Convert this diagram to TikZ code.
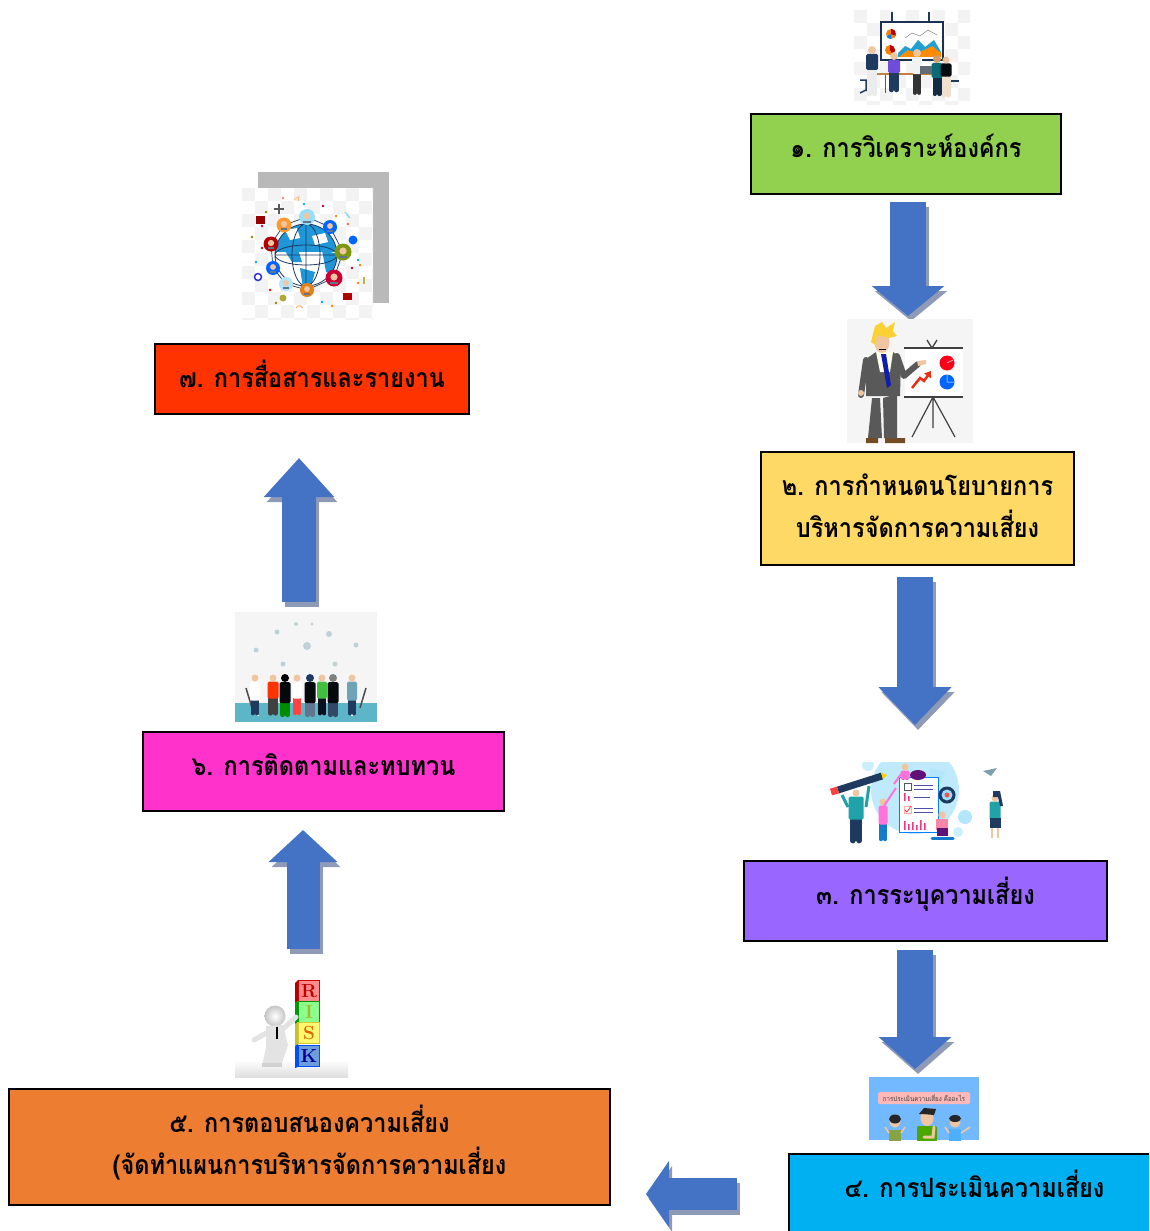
\documentclass[tikz,border=0pt]{standalone}
\usepackage{fontspec}
\usetikzlibrary{arrows.meta,shapes.geometric}
\newfontfamily\thaifont[Script=Thai,FakeStretch=0.88]{Loma}
\newcommand\up[2]{\raisebox{#1}[0pt][0pt]{#2}}
\newcommand\chk[5]{%
  \begin{scope}
    \clip (#1,#2) rectangle (#3,#4);
    \fill[white] (#1,#2) rectangle (#3,#4);
    \foreach \i in {0,...,20} \foreach \j in {0,...,20} {%
      \pgfmathtruncatemacro\chkm{mod(\i+\j,2)}%
      \ifnum\chkm=0 \fill[chkgray] ({#1+\i*#5},{#2+\j*#5}) rectangle ++(#5,#5);\fi
    }%
  \end{scope}}
% person: x, head y, head r, skin, body col, body w, body h, leg col, leg h
\newcommand\psn[9]{%
  \draw[#8,line width=#6*0.38pt,line cap=round] ({#1-#6*0.22},{#2+#3+#7}) -- ++(0,#9);
  \draw[#8,line width=#6*0.38pt,line cap=round] ({#1+#6*0.22},{#2+#3+#7}) -- ++(0,#9);
  \fill[#5,rounded corners=1.5pt] ({#1-#6/2},{#2+#3}) rectangle ({#1+#6/2},{#2+#3+#7+1});
  \fill[#4] (#1,#2) circle (#3);
}
% block arrow: shaft width, head width, head length, from, to
\newcommand\blockconn[5]{%
  \draw[ashadow,line width=#1pt,transform canvas={xshift=3pt,yshift=-5pt},-{Triangle[length=#3pt,width=#2pt]}] (#4) -- (#5);
  \draw[abody,line width=#1pt,-{Triangle[length=#3pt,width=#2pt]}] (#4) -- (#5);}
\definecolor{chkgray}{HTML}{F3F3F3}
\definecolor{abody}{HTML}{4472C4}
\definecolor{ashadow}{HTML}{8F9BB6}
\definecolor{navy}{HTML}{1F3A5F}
\definecolor{skin}{HTML}{F0C6A0}
\definecolor{teal2}{HTML}{1FA3A8}
\definecolor{globe}{HTML}{1E96D8}
\definecolor{floor6}{HTML}{5CB6C8}
\tikzset{
  boxnode/.style={draw=black,line width=1.8pt,rectangle,inner sep=0pt,outer sep=0pt,align=center,
    font=\thaifont\bfseries\fontsize{26.7}{42}\selectfont,text=black},
  blockface/.style={line width=1pt,minimum size=21pt,inner sep=0pt,outer sep=0pt,font=\bfseries\rmfamily\fontsize{19}{19}\selectfont},
}
\begin{document}
\begin{tikzpicture}[x=1pt,y=-1pt]
\clip (0,0) rectangle (1149,1231);
\fill[white] (0,0) rectangle (1149,1231);

% ---------- boxes
\node[boxnode,fill={rgb,255:red,146;green,208;blue,80},minimum width=310pt,minimum height=80pt] (n1) at (906,154) {\up{-3pt}{๑. การวิเคราะห์องค์กร}};
\node[boxnode,fill={rgb,255:red,255;green,217;blue,102},minimum width=313pt,minimum height=113pt] (n2) at (917.5,508.5) {\up{-7.5pt}{๒. การกำหนดนโยบายการ}\\\up{-7.5pt}{บริหารจัดการความเสี่ยง}};
\node[boxnode,fill={rgb,255:red,153;green,102;blue,255},minimum width=363pt,minimum height=80pt] (n3) at (925.5,901) {\up{-3pt}{๓. การระบุความเสี่ยง}};
\node[boxnode,fill={rgb,255:red,0;green,176;blue,240},minimum width=371pt,minimum height=90pt] (n4) at (974.5,1199) {\up{2pt}{๔. การประเมินความเสี่ยง}};
\node[boxnode,fill={rgb,255:red,237;green,125;blue,49},minimum width=601pt,minimum height=116pt] (n5) at (309.5,1147) {\up{-6pt}{๕. การตอบสนองความเสี่ยง}\\\up{-6pt}{(จัดทำแผนการบริหารจัดการความเสี่ยง}};
\node[boxnode,fill={rgb,255:red,255;green,51;blue,204},minimum width=361pt,minimum height=79pt] (n6) at (323.5,771.5) {\up{-4pt}{๖. การติดตามและทบทวน}};
\node[boxnode,fill={rgb,255:red,255;green,51;blue,0},minimum width=314pt,minimum height=70pt] (n7) at (312,379) {\up{-8pt}{๗. การสื่อสารและรายงาน}};

% ---------- block arrows
\coordinate (a1s) at (908,202);  \coordinate (a1e) at (908,316);
\coordinate (a2s) at (915,577);  \coordinate (a2e) at (915,725);
\coordinate (a3s) at (915,950);  \coordinate (a3e) at (915,1069);
\coordinate (a4s) at (737,1194); \coordinate (a4e) at (646,1194);
\coordinate (a5s) at (303,949);  \coordinate (a5e) at (303,830);
\coordinate (a6s) at (299,602);  \coordinate (a6e) at (299,458);
\blockconn{36}{71}{30}{a1s}{a1e}
\blockconn{36}{71}{38}{a2s}{a2e}
\blockconn{36}{71}{32}{a3s}{a3e}
\blockconn{32}{65}{23}{a4s}{a4e}
\blockconn{33}{67}{32}{a5s}{a5e}
\blockconn{34}{68}{39}{a6s}{a6e}

% ---------- picture 1: meeting
\chk{854}{10}{970}{104}{13}
\draw[navy,line width=2pt] (892,12) -- (892,21) (929,12) -- (929,21);
\draw[navy!85!black,line width=2pt,fill=white] (881,22) rectangle (943,60);
\fill[orange] (891,34) circle (5); \fill[red!70!black] (891,34) -- (891,29) arc (-90:20:5) -- cycle;
\fill[blue!50!cyan] (891,34) -- ++(0,5) arc (90:150:5) -- cycle;
\fill[orange] (890,50) circle (5); \fill[red!70!black] (890,50) -- (890,45) arc (-90:60:5) -- cycle;
\fill[cyan!70!teal] (898,53) -- (905,46) -- (911,49) -- (918,40) -- (925,47) -- (934,40) -- (941,52) -- (941,57) -- (898,57) -- cycle;
\fill[orange!90!yellow] (899,57) -- (908,50) -- (916,53) -- (924,50) -- (932,46) -- (941,53) -- (941,57) -- cycle;
\draw[gray,line width=.5pt] (905,38) -- (912,33) -- (920,36) -- (928,30) -- (937,35);
\draw[brown,line width=2pt] (874,74) -- (950,74);
\draw[gray!70!black,line width=1pt] (885,75) -- (885,93) (940,75) -- (940,93);
\draw[navy,line width=1.5pt] (860,80) -- (868,80) (866,80) -- (866,90) (860,93) -- (866,90) -- (872,93);
\draw[navy,line width=1.5pt] (950,81) -- (959,81);
\psn{872}{50}{4}{skin}{navy}{12}{15}{white!85!gray}{25}
\psn{894}{56}{4}{skin}{blue!60!violet!70!white}{12}{12}{navy}{18}
\psn{917}{53}{4}{skin}{white!90!gray}{10}{16}{black!80}{20}
\psn{937}{59}{4}{brown!60!skin}{teal!70!navy}{11}{14}{navy!70!black}{17}
\psn{946}{60}{3.5}{skin}{black!80!navy}{11}{12}{white!75!brown}{20}
\fill[gray!70!navy] (920,66) rectangle (932,74);

% ---------- picture 2: presenter
\fill[gray!8] (847,319) rectangle (973,443);
\fill[white] (905,348) rectangle (963,397);
\draw[black!75,line width=1.8pt] (904,348) -- (963,348) (904,397) -- (963,397);
\draw[black!75,line width=1.3pt] (927,340) -- (932,348) -- (937,340);
\draw[black!75,line width=1.2pt] (933,397) -- (912,437) (933,397) -- (955,437) (933,397) -- (933,428);
\fill[red!90!magenta] (947,363) circle (7.5);
\fill[blue!60!cyan] (947,382) circle (7.5);
\draw[white,line width=.5pt] (947,382) -- (954,382) (947,382) -- (947,375) (947,363) -- (953,360);
\draw[red!65!brown,line width=2.5pt,-{Triangle[length=6pt,width=8pt]}] (912,388) -- (920,378) -- (924,381) -- (931,371);
\fill[black!65] (868,438) -- (872,398) -- (880,398) -- (882,438) -- cycle;
\fill[black!65] (884,438) -- (883,398) -- (897,394) -- (897,438) -- cycle;
\fill[brown!60!black] (866,438) rectangle (878,443) (885,438) rectangle (905,443);
\fill[black!65] (866,359) -- (876,352) -- (893,352) -- (901,358) -- (900,396) -- (866,396) -- cycle;
\draw[black!65,line width=6pt,line cap=round] (866,360) -- (861,395);
\draw[black!65,line width=6pt,line cap=round,line join=round] (897,356) -- (904,376) -- (918,364);
\fill[skin] (917,361) -- (926,360) -- (926,364) -- (918,366) -- cycle;
\fill[skin] (861,393) circle (3);
\fill[white!90!yellow] (876,352) -- (893,352) -- (890,372) -- (880,372) -- cycle;
\fill[blue!50!navy] (881,354) -- (886,354) -- (891,385) -- (887,388) -- cycle;
\fill[skin] (882,342) ellipse (7.5 and 11);
\fill[yellow!60!orange!80!white] (871,342) -- (875,326) -- (882,322) -- (886,328) -- (895,322) -- (893,331) -- (897,336) -- (889,338) -- (877,335) -- (875,345) -- cycle;
\draw[black,line width=.8pt] (879,349) -- (886,349);

% ---------- picture 3: checklist team
\begin{scope}
\clip (820,762) rectangle (1010,843);
\fill[cyan!25!white] (915,790) circle (44);
\fill[cyan!20] (868,765) circle (6);
\fill[cyan!30] (965,817) circle (7);
\fill[cyan!20] (958,832) circle (5);
\fill[cyan!30] (930,768) -- (945,772) -- (940,782) -- (928,780) -- cycle;
\draw[blue!50!cyan,line width=1pt,fill=white] (899,777) rectangle (938,832);
\fill[violet!70!navy] (918,775) ellipse (8 and 5);
\draw[gray!70!black,line width=.8pt] (904,783) rectangle (911,790);
\draw[pink!90!red,line width=.8pt] (904,806) rectangle (911,813);
\draw[red!70!pink,line width=.8pt] (905,810) -- (907,812) -- (911,806);
\draw[gray!60!blue,line width=.8pt] (914,785) -- (933,785) (914,789) -- (933,789) (914,808) -- (933,808) (914,812) -- (933,812) (914,797) -- (930,797);
\fill[magenta!70!red!80!white]
  (904,830) rectangle ++(1.5,-9) (908,830) rectangle ++(1.5,-6) (912,830) rectangle ++(1.5,-8)
  (916,830) rectangle ++(1.5,-5) (920,830) rectangle ++(1.5,-10) (924,830) rectangle ++(1.5,-7)
  (904,801) rectangle ++(1.5,-8) (908,801) rectangle ++(1.5,-5);
\fill[navy] (947,795) circle (8.5); \fill[cyan!40] (947,795) circle (5.5); \fill[red!70] (947,795) circle (2.5);
\draw[navy,line width=7pt] (838,790) -- (882,776);
\fill[yellow!70!orange] (881,772.5) -- (887,775) -- (883,779.5) -- cycle;
\draw[red!75,line width=7pt] (831,792) -- (838,790);
\draw[teal2,line width=3pt] (842,795) -- (848,807) (869,786) -- (866,807);
\psn{856}{793}{3.5}{skin}{teal2}{15}{22}{navy}{22}
\psn{883}{802}{3.5}{skin}{pink!60!magenta}{9}{18}{cyan!60!blue}{16}
\draw[pink!60!magenta,line width=2pt] (884,806) -- (896,788);
\psn{905}{767}{3.5}{skin}{pink!60!magenta}{9}{8}{navy}{0}
\draw[pink!60!magenta,line width=2pt] (901,774) -- (894,784);
\fill[skin] (942,815) circle (3.7);
\fill[magenta!30!pink] (936,819) rectangle (948,830);
\fill[violet!70!navy] (937,828) rectangle (948,836);
\draw[cyan!60!blue,line width=3pt,line cap=round] (932,838) -- (953,838);
\psn{995}{798}{3.5}{skin}{teal2}{11}{18}{navy}{0}
\fill[navy] (990,818) rectangle (1001,828);
\draw[skin,line width=1.6pt] (992,828) -- (992,838) (998,828) -- (998,838);
\fill[navy] (993,791) -- (1000,791) -- (1003,806) -- (1000,806) -- (998,797) -- (993,797) -- cycle;
\fill[cyan!30!gray] (983,771) -- (997,768) -- (991,776) -- cycle;
\end{scope}

% ---------- picture 4: questions
\fill[blue!50!cyan!55!white] (869,1077) rectangle (979,1140);
\fill[pink!80!red!70!white,rounded corners=1.5pt] (878,1092) rectangle (970,1104);
\node[font=\thaifont\fontsize{7}{8}\selectfont,text=black!75,inner sep=0pt] (p4t) at (924,1098) {การประเมินความเสี่ยง คืออะไร};
\begin{scope}
\clip (869,1077) rectangle (979,1140);
\fill[green!50!black!70!yellow,rounded corners=2pt] (917,1126) rectangle (937,1142);
\fill[skin] (927,1118) ellipse (6.5 and 8);
\fill[black!85] (919,1114) -- (924,1108) -- (936,1109) -- (934,1115) -- (923,1114) -- cycle;
\draw[skin,line width=3pt,line cap=round] (924,1137) -- (933,1137) -- (934,1127);
\fill[yellow!60!green!70!black] (889,1130) rectangle (901,1141);
\fill[skin] (895,1122) circle (5.5); \fill[black!85] (895,1119) ellipse (6 and 4.5);
\draw[skin,line width=1.6pt] (885,1127) -- (889,1133) (905,1127) -- (901,1133);
\fill[blue!45!cyan!70!white] (949,1129) rectangle (961,1141);
\fill[skin] (955,1122) circle (5.5); \fill[black!85] (955,1118.5) ellipse (6 and 3.5);
\draw[skin,line width=1.6pt] (945,1127) -- (949,1133) (970,1127) -- (961,1133);
\end{scope}

% ---------- picture 5: risk blocks
\shade[top color=white,bottom color=gray!25] (235,1060) rectangle (348,1077);
\fill[red!70!black] (295,983) -- (298,980) -- (298,1001) -- (295,1003) -- cycle;
\fill[green!60!black] (295,1003) -- (298,1001) -- (298,1022) -- (295,1024) -- cycle;
\fill[yellow!75!black] (295,1024) -- (298,1022) -- (298,1044) -- (295,1046) -- cycle;
\fill[blue!70!cyan] (295,1046) -- (298,1044) -- (298,1067) -- (295,1068) -- cycle;
\node[blockface,draw=red!80!black,fill=red!45!white,text=red!75!black] (bR) at (309,991) {R};
\node[blockface,draw=green!60!black,fill=green!45!white,text=yellow!70!green!80!black] (bI) at (309,1012) {I};
\node[blockface,draw=yellow!80!black,fill=yellow!55!white,text=orange!85!black] (bS) at (309,1033) {S};
\node[blockface,draw=blue!70!cyan,fill=cyan!55!blue!60!white,text=blue!60!black] (bK) at (309,1056) {K};
\shade[inner color=white,outer color=gray!45] (275,1016) circle (10.5);
\fill[gray!22] (266,1026) -- (283,1025) -- (288,1045) -- (281,1066) -- (262,1066) -- (266,1048) -- cycle;
\draw[gray!22,line width=5pt,line cap=round] (282,1030) -- (296,1017);
\draw[gray!22,line width=5pt,line cap=round] (268,1032) -- (254,1040);
\draw[black,line width=1.6pt] (277,1027) -- (277,1039);
\fill[gray!35] (262,1063) rectangle (282,1067);

% ---------- picture 6: team table
\fill[gray!8] (235,612) rectangle (377,722);
\fill[floor6] (235,703) rectangle (377,722);
\foreach \xx/\yy/\rr in {277/632/2.5,296/624/2,312/624/1.5,307/646/4,329/634/3,356/645/2.5,256/650/2.5,283/664/2.5,335/664/2.5}
  \fill[cyan!30!gray!45] (\xx,\yy) circle (\rr);
\draw[black!70,line width=1.5pt] (246,688) -- (252,708) (366,688) -- (360,708);
\draw[white,line width=1.5pt] (258,708) -- (258,716) (352,708) -- (352,716);
\psn{255}{678}{3.5}{skin}{white}{10}{18}{navy}{14}
\psn{273}{678}{3.5}{skin}{red!60!orange}{11}{16}{black!75}{16}
\psn{285}{678}{4}{black}{black!85!navy}{11}{20}{green!55!black}{13}
\psn{297}{678}{3.5}{skin}{white}{9}{16}{red!65!pink}{16}
\psn{310}{678}{4}{navy}{black!85!navy}{11}{20}{navy!70}{13}
\psn{322}{678}{3.5}{skin}{green!50!gray}{10}{16}{black!70!navy}{16}
\psn{333}{678}{4}{gray}{black!85!navy}{11}{20}{navy!80!gray}{13}
\psn{352}{678}{3.5}{skin}{cyan!40!gray}{10}{18}{navy}{14}

% ---------- picture 7: global network
\fill[gray!55] (258,172) rectangle (389,303);
\chk{242}{188}{373}{319}{13}
\draw[navy,line width=.7pt] (307,217) -- (330,227) -- (343,252) -- (334,278) -- (307,290) -- (286,284) -- (273,268) -- (271,244) -- (284,225) -- cycle;
\fill[globe] (306,255) circle (31);
\begin{scope}
\clip (306,255) circle (31);
\fill[white] (275,252) rectangle (340,290);
\fill[globe] (278,240) -- (296,243) -- (302,262) -- (292,262) -- cycle;
\fill[globe] (300,268) -- (315,272) -- (310,290) -- (303,288) -- cycle;
\fill[globe] (322,250) -- (338,254) -- (338,275) -- (326,272) -- cycle;
\fill[white] (285,230) -- (297,228) -- (300,238) -- (290,240) -- cycle;
\fill[white] (312,236) -- (325,233) -- (328,242) -- (315,245) -- cycle;
\end{scope}
\draw[navy,line width=.8pt] (306,255) circle (31) (306,255) ellipse (31 and 10) (306,255) ellipse (14 and 31) (275,255) -- (337,255) (306,224) -- (306,286);
\foreach \xx/\yy/\rr/\cc in {307/217/8/cyan!40,284/225/7.5/orange!80,330/227/7/blue!60!cyan,271/244/7.5/red!70!black,343/252/8.5/olive!70!green,273/268/7/blue!60!cyan,334/278/8.5/purple!80!red,286/284/7/cyan!30,307/290/7/orange!80!gray}{%
  \fill[\cc] (\xx,\yy) circle (\rr);
  \fill[skin] (\xx,\yy-1) circle (\rr*0.42);
  \fill[navy!70] (\xx-\rr*.45,\yy+\rr*.45) rectangle (\xx+\rr*.45,\yy+\rr*.7);
}
\draw[gray!70!black,line width=2pt] (279,204) -- (279,214) (274,209) -- (284,209);
\fill[red!60!black] (256,216) rectangle (265,224);
\fill[blue!60!cyan] (353,240) circle (4.5);
\fill[red!70!black] (343,293) rectangle (352,300);
\draw[blue!60!gray,line width=1.5pt] (258,277) circle (3.5);
\fill[olive!70] (283,298) circle (3.5);
\fill[olive!60] (363,277) rectangle (365,284);
\draw[orange!60,line width=1pt] (296,308) arc (200:340:3.5);
\draw[orange!50,line width=1pt] (294,200) -- (296,198) (296,198) -- (299,197) -- (298,201);
\draw[cyan!50,line width=1.2pt] (345,212) -- (350,218);
\foreach \xx/\yy/\cc in {252/237/olive,262/226/purple,266/212/olive,283/198/red!50,323/206/purple,336/216/orange,348/224/red!60,358/260/cyan,352/268/purple,360/265/orange,256/262/cyan,262/248/purple,358/283/orange,322/302/cyan,332/306/orange,270/290/red,276/303/olive,304/204/cyan}
  \fill[\cc] (\xx,\yy) circle (1.4);
\end{tikzpicture}
\end{document}
